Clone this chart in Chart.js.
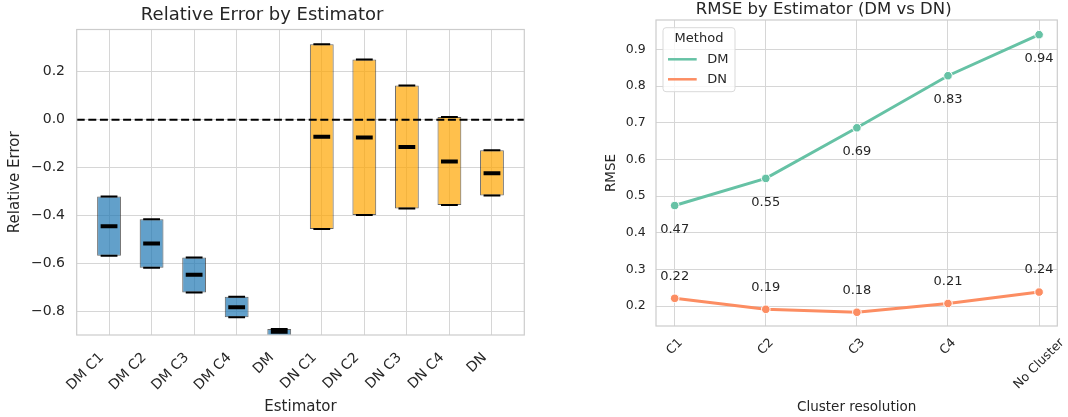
<!DOCTYPE html>
<html>
<head>
<meta charset="utf-8">
<script src="https://cdn.jsdelivr.net/npm/chart.js@4.4.1/dist/chart.umd.min.js"></script>
<style>
  body { margin: 0; background: #fff; }
  #wrap { position: relative; width: 1068px; height: 417px; }
  canvas { position: absolute; top: 0; }
  #errChart { left: 0; }
  #rmseChart { left: 590px; }
</style>
</head>
<body>
<div id="wrap">
  <canvas id="errChart" width="545" height="417"></canvas>
  <canvas id="rmseChart" width="478" height="417"></canvas>
</div>
<script>
// left panel: relative error ranges per estimator
const estimators = ['DM C1', 'DM C2', 'DM C3', 'DM C4', 'DM', 'DN C1', 'DN C2', 'DN C3', 'DN C4', 'DN'];
const errLow = [-0.568, -0.618, -0.721, -0.824, -0.905, -0.456, -0.398, -0.370, -0.356, -0.316];
const errHigh = [-0.320, -0.415, -0.575, -0.739, -0.873, 0.314, 0.251, 0.142, 0.011, -0.128];
const errMedian = [-0.445, -0.516, -0.647, -0.782, -0.884, -0.071, -0.074, -0.114, -0.174, -0.223];
const errTicks = [-0.8, -0.6, -0.4, -0.2, 0.0, 0.2];

// right panel: RMSE per cluster resolution
const resolutions = ['C1', 'C2', 'C3', 'C4', 'No Cluster'];
const rmseDM = [0.474, 0.548, 0.686, 0.828, 0.940];
const rmseDN = [0.221, 0.191, 0.183, 0.207, 0.238];
const rmseTicks = [0.2, 0.3, 0.4, 0.5, 0.6, 0.7, 0.8, 0.9];

const TEXT = '#262626';
const GRID = '#d6d6d6';
const FONT = "'DejaVu Sans', sans-serif";
Chart.defaults.font.family = FONT;
Chart.defaults.color = TEXT;

// plot frame
const frame = {
    id: 'frame',
    afterDraw(chart) {
        const { ctx, chartArea: a } = chart;
        ctx.save();
        ctx.strokeStyle = '#cccccc';
        ctx.lineWidth = 1.2;
        ctx.strokeRect(a.left, a.top, a.right - a.left, a.bottom - a.top);
        ctx.restore();
    }
};

// x labels rotated 45 degrees, like matplotlib (ha right or center)
function rotatedLabels(labels, size, ha, pad) {
    return {
        id: 'rotLabels',
        afterDraw(chart) {
            const { ctx, chartArea: a, scales: { x } } = chart;
            const r = Math.SQRT1_2;
            ctx.save();
            ctx.font = size + 'px ' + FONT;
            ctx.fillStyle = TEXT;
            ctx.textAlign = 'center';
            ctx.textBaseline = 'middle';
            labels.forEach((lab, i) => {
                const w = ctx.measureText(lab).width;
                const px = x.getPixelForValue(i);
                const cx = ha === 'right' ? px - r * (w + 1.5 * size) / 2 : px;
                const cy = a.bottom + pad + r * (w + 0.75 * size) / 2;
                ctx.save();
                ctx.translate(cx, cy);
                ctx.rotate(-Math.PI / 4);
                ctx.fillText(lab, 0, 0);
                ctx.restore();
            });
            ctx.restore();
        }
    };
}

const zeroLine = {
    id: 'zeroLine',
    afterDatasetsDraw(chart) {
        const { ctx, chartArea: a, scales: { y } } = chart;
        const py = y.getPixelForValue(0);
        ctx.save();
        ctx.beginPath();
        ctx.setLineDash([8, 3.6]);
        ctx.lineWidth = 2;
        ctx.strokeStyle = '#000';
        ctx.moveTo(a.left, py);
        ctx.lineTo(a.right, py);
        ctx.stroke();
        ctx.restore();
    }
};

new Chart(document.getElementById('errChart'), {
    type: 'bar',
    data: {
        datasets: [
            {
                type: 'bar',
                data: estimators.map((e, i) => ({ x: i, y: [errLow[i], errHigh[i]] })),
                backgroundColor: estimators.map(e => e.startsWith('DM') ? 'rgba(31,119,180,0.7)' : 'rgba(255,165,0,0.7)'),
                borderColor: 'rgba(40,40,40,0.7)',
                borderWidth: 1,
                borderSkipped: false,
                barPercentage: 0.56,
                categoryPercentage: 1,
                clip: 0,
                order: 3
            },
            {
                type: 'scatter',
                data: estimators.flatMap((e, i) => [{ x: i, y: errLow[i] }, { x: i, y: errHigh[i] }]),
                pointStyle: 'line',
                pointRadius: 8.4,
                pointHoverRadius: 8.4,
                pointBorderWidth: 2,
                pointBorderColor: '#000',
                clip: 0,
                order: 2
            },
            {
                type: 'scatter',
                data: estimators.map((e, i) => ({ x: i, y: errMedian[i] })),
                pointStyle: 'line',
                pointRadius: 8.4,
                pointHoverRadius: 8.4,
                pointBorderWidth: 4,
                pointBorderColor: '#000',
                clip: 0,
                order: 1
            }
        ]
    },
    options: {
        responsive: false,
        animation: false,
        layout: { padding: { left: 0, right: 20.7, top: 0, bottom: 0 } },
        plugins: {
            legend: { display: false },
            tooltip: { enabled: false },
            title: {
                display: true,
                text: 'Relative Error by Estimator',
                color: TEXT,
                font: { size: 18, weight: 'normal', lineHeight: 1 },
                padding: { top: 6.5, bottom: 5 }
            }
        },
        scales: {
            x: {
                type: 'linear',
                min: -0.76,
                max: 9.76,
                offset: false,
                afterBuildTicks: s => { s.ticks = estimators.map((e, i) => ({ value: i })); },
                afterFit: s => { s.height = 82; },
                ticks: { display: false },
                grid: { color: GRID, drawTicks: false, offset: false },
                border: { display: false },
                title: {
                    display: true, text: 'Estimator', color: TEXT,
                    font: { size: 15, lineHeight: 1 }, padding: { top: 0, bottom: 2.5 }
                }
            },
            y: {
                min: -0.898,
                max: 0.376,
                afterBuildTicks: s => { s.ticks = errTicks.map(v => ({ value: v })); },
                afterFit: s => { s.width = 76.7; },
                ticks: {
                    padding: 11.7, color: TEXT, font: { size: 14 },
                    callback: v => v.toFixed(1).replace('-', '\u2212')
                },
                grid: { color: GRID, drawTicks: false },
                border: { display: false },
                title: {
                    display: true, text: 'Relative Error', color: TEXT,
                    font: { size: 15, lineHeight: 1 }, padding: { top: 7.5, bottom: 0 }
                }
            }
        }
    },
    plugins: [zeroLine, frame, rotatedLabels(estimators, 14, 'right', 16.7)]
});

// legend box inside the plot, top left
const methodLegend = {
    id: 'methodLegend',
    afterDraw(chart) {
        const { ctx, chartArea: a } = chart;
        const bx = a.left + 7, by = a.top + 7.7, bw = 72, bh = 64;
        ctx.save();
        ctx.beginPath();
        ctx.roundRect(bx, by, bw, bh, 3);
        ctx.fillStyle = 'rgba(255,255,255,0.8)';
        ctx.fill();
        ctx.strokeStyle = '#d9d9d9';
        ctx.lineWidth = 1;
        ctx.stroke();
        ctx.fillStyle = TEXT;
        ctx.font = '13px ' + FONT;
        ctx.textAlign = 'center';
        ctx.textBaseline = 'middle';
        ctx.fillText('Method', bx + bw / 2, by + 11.3);
        ctx.textAlign = 'left';
        chart.data.datasets.forEach((ds, i) => {
            const ly = by + 31.6 + i * 20;
            ctx.beginPath();
            ctx.strokeStyle = ds.borderColor;
            ctx.lineWidth = 2.5;
            ctx.moveTo(bx + 5, ly);
            ctx.lineTo(bx + 33.7, ly);
            ctx.stroke();
            ctx.fillText(ds.label, bx + 44.3, ly);
        });
        ctx.restore();
    }
};

// value annotations: DM below the point, DN above
const valueLabels = {
    id: 'valueLabels',
    afterDatasetsDraw(chart) {
        const ctx = chart.ctx;
        ctx.save();
        ctx.font = '13px ' + FONT;
        ctx.fillStyle = TEXT;
        ctx.textAlign = 'center';
        ctx.textBaseline = 'middle';
        chart.data.datasets.forEach((ds, di) => {
            const dy = ds.label === 'DM' ? 24 : -22;
            chart.getDatasetMeta(di).data.forEach((pt, i) => {
                ctx.fillText(ds.data[i].y.toFixed(2), pt.x, pt.y + dy);
            });
        });
        ctx.restore();
    }
};

new Chart(document.getElementById('rmseChart'), {
    type: 'line',
    data: {
        datasets: [
            {
                label: 'DM',
                data: resolutions.map((r, i) => ({ x: i, y: rmseDM[i] })),
                borderColor: '#66c2a5',
                backgroundColor: '#66c2a5',
                pointBackgroundColor: '#66c2a5',
                borderWidth: 3,
                pointRadius: 4.3,
                pointBorderColor: '#fff',
                pointBorderWidth: 1,
                tension: 0
            },
            {
                label: 'DN',
                data: resolutions.map((r, i) => ({ x: i, y: rmseDN[i] })),
                borderColor: '#fc8d62',
                backgroundColor: '#fc8d62',
                pointBackgroundColor: '#fc8d62',
                borderWidth: 3,
                pointRadius: 4.3,
                pointBorderColor: '#fff',
                pointBorderWidth: 1,
                tension: 0
            }
        ]
    },
    options: {
        responsive: false,
        animation: false,
        layout: { padding: { left: 0, right: 10.7, top: 0, bottom: 0 } },
        plugins: {
            legend: { display: false },
            tooltip: { enabled: false },
            title: {
                display: true,
                text: 'RMSE by Estimator (DM vs DN)',
                color: TEXT,
                font: { size: 16.5, weight: 'normal', lineHeight: 1 },
                padding: { top: 1.8, bottom: 1.7 }
            }
        },
        scales: {
            x: {
                type: 'linear',
                min: -0.205,
                max: 4.2,
                afterBuildTicks: s => { s.ticks = resolutions.map((r, i) => ({ value: i })); },
                afterFit: s => { s.height = 91; },
                ticks: { display: false },
                grid: { color: GRID, drawTicks: false },
                border: { display: false },
                title: {
                    display: true, text: 'Cluster resolution', color: TEXT,
                    font: { size: 13.5, lineHeight: 1 }, padding: { top: 0, bottom: 3 }
                }
            },
            y: {
                min: 0.1455,
                max: 0.98,
                afterBuildTicks: s => { s.ticks = rmseTicks.map(v => ({ value: v })); },
                afterFit: s => { s.width = 66; },
                ticks: {
                    padding: 10.3, color: TEXT, font: { size: 12.5 },
                    callback: v => v.toFixed(1)
                },
                grid: { color: GRID, drawTicks: false },
                border: { display: false },
                title: {
                    display: true, text: 'RMSE', color: TEXT,
                    font: { size: 13.5, lineHeight: 1 }, padding: { top: 15, bottom: 0 }
                }
            }
        }
    },
    plugins: [frame, valueLabels, methodLegend, rotatedLabels(resolutions, 12.5, 'center', 11.5)]
});
</script>
</body>
</html>
